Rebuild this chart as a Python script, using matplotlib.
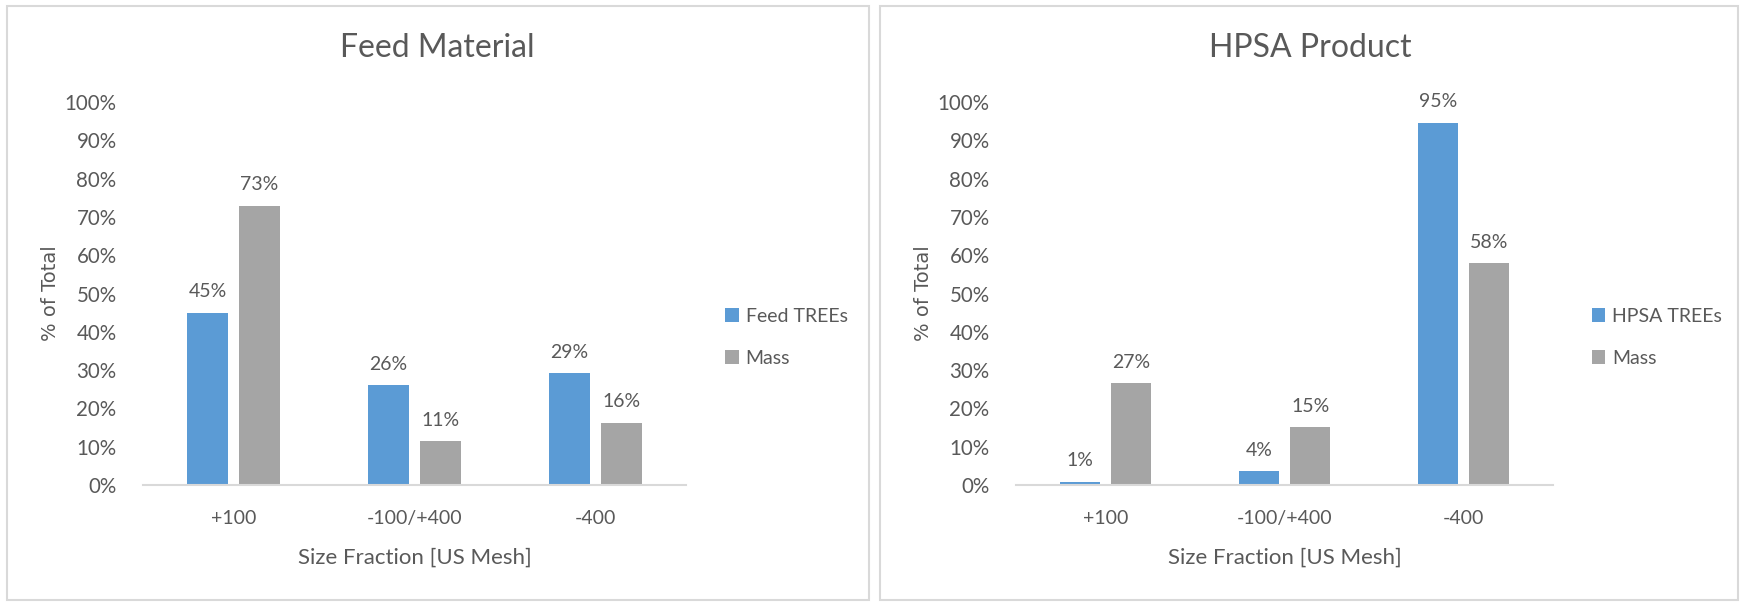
import numpy as np
import matplotlib
matplotlib.use("Agg")
import matplotlib.pyplot as plt
from matplotlib.patches import Rectangle

plt.rcParams["font.family"] = ["Lato", "DejaVu Sans"]

categories = ["+100", "-100/+400", "-400"]
feed_trees = [45.0, 26.1, 29.2]
feed_mass = [72.9, 11.4, 16.2]
hpsa_trees = [0.8, 3.6, 94.6]
hpsa_mass = [26.6, 15.1, 57.9]
y_ticks = [0, 10, 20, 30, 40, 50, 60, 70, 80, 90, 100]

BLUE = "#5B9BD5"
GREY = "#A5A5A5"
TEXT = "#595959"
LINE = "#D9D9D9"

W, H = 1741, 602


def px_axes(fig, left, top, right, bottom):
    return fig.add_axes([left / W, 1 - bottom / H, (right - left) / W, (bottom - top) / H])


def draw_panel(fig, ax, title, trees, mass, trees_label, title_x):
    x = np.arange(len(categories))
    width = 0.225
    gap = 0.061
    b1 = ax.bar(x - (width + gap) / 2, trees, width, color=BLUE, label=trees_label)
    b2 = ax.bar(x + (width + gap) / 2, mass, width, color=GREY, label="Mass")
    for bars, vals in ((b1, trees), (b2, mass)):
        ax.bar_label(bars, labels=[f"{round(v)}%" for v in vals], padding=9,
                     fontsize=14, color=TEXT)

    ax.set_xlim(-0.5, 2.5)
    ax.set_ylim(0, 100)
    ax.set_yticks(y_ticks)
    ax.set_yticklabels([f"{t}%" for t in y_ticks])
    ax.set_xticks(x)
    ax.set_xticklabels(categories)
    ax.tick_params(axis="both", length=0, labelsize=14, labelcolor=TEXT)
    ax.tick_params(axis="y", labelsize=14.8, pad=19)
    ax.tick_params(axis="x", pad=18)
    for side in ("top", "right", "left"):
        ax.spines[side].set_visible(False)
    ax.spines["bottom"].set_color(LINE)
    ax.spines["bottom"].set_linewidth(1.5)

    ax.set_xlabel("Size Fraction [US Mesh]", fontsize=16, color=TEXT, labelpad=15)
    ax.set_ylabel("% of Total", fontsize=14, color=TEXT, family="DejaVu Sans", labelpad=3)
    fig.text(title_x / W, 1 - 48 / H, title, ha="center", va="center",
             fontsize=23, color=TEXT)

    ax.legend(loc="center left", bbox_to_anchor=(1.072, 0.386), frameon=False,
              fontsize=14, labelcolor=TEXT, handlelength=0.7, handleheight=0.7,
              handletextpad=0.35, labelspacing=1.3, borderpad=0, borderaxespad=0)


fig = plt.figure(figsize=(W / 100, H / 100), dpi=100)

# panel frames
for left, right in ((6.5, 868.5), (880, 1738)):
    fig.add_artist(Rectangle((left / W, 1 - 600 / H), (right - left) / W, (600 - 5.5) / H,
                             transform=fig.transFigure, fill=False,
                             edgecolor=LINE, linewidth=1.5))

ax1 = px_axes(fig, 143, 102, 686, 485)
draw_panel(fig, ax1, "Feed Material", feed_trees, feed_mass, "Feed TREEs", 437)

ax2 = px_axes(fig, 1016, 102, 1553, 485)
draw_panel(fig, ax2, "HPSA Product", hpsa_trees, hpsa_mass, "HPSA TREEs", 1310)

fig.savefig("out.png", dpi=100, facecolor="white")
